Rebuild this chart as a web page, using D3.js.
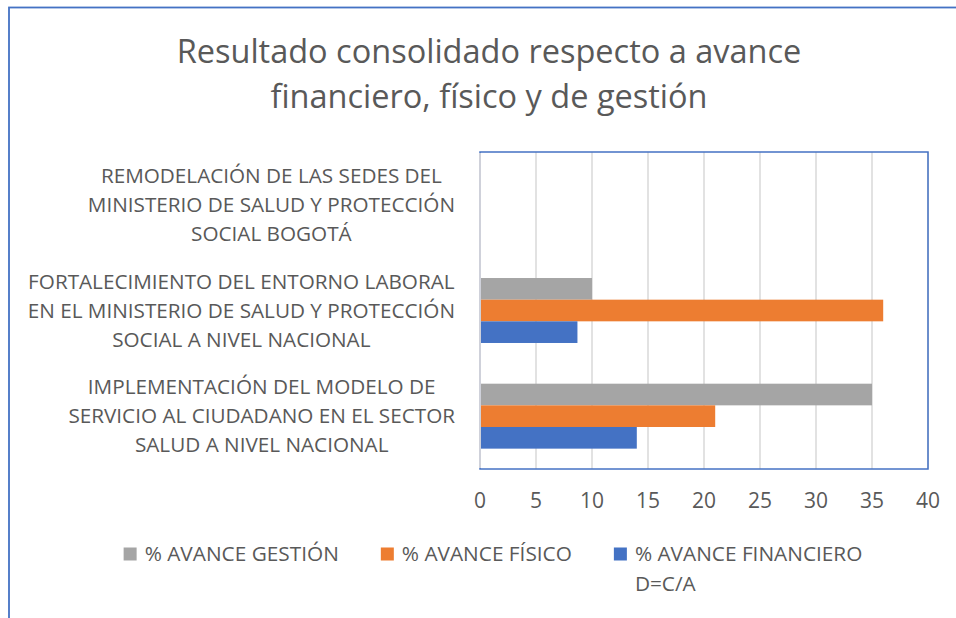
<!DOCTYPE html>
<html>
<head>
<meta charset="utf-8">
<title>Resultado consolidado</title>
<script src="https://cdn.jsdelivr.net/npm/d3@7"></script>
<style>
    body { margin: 0; background: #fff; }
    text { font-family: "Open Sans", sans-serif; fill: #595959; }
</style>
</head>
<body>
<div id="chart"></div>
<script>
    const width = 956, height = 618;

    // categories, top to bottom, with their label lines
    const categories = [
        "REMODELACIÓN DE LAS SEDES DEL MINISTERIO DE SALUD Y PROTECCIÓN SOCIAL BOGOTÁ",
        "FORTALECIMIENTO DEL ENTORNO LABORAL EN EL MINISTERIO DE SALUD Y PROTECCIÓN SOCIAL A NIVEL NACIONAL",
        "IMPLEMENTACIÓN DEL MODELO DE SERVICIO AL CIUDADANO EN EL SECTOR SALUD A NIVEL NACIONAL"
    ];
    const categoryLines = [
        ["REMODELACIÓN DE LAS SEDES DEL", "MINISTERIO DE SALUD Y PROTECCIÓN", "SOCIAL BOGOTÁ"],
        ["FORTALECIMIENTO DEL ENTORNO LABORAL", "EN EL MINISTERIO DE SALUD Y PROTECCIÓN", "SOCIAL A NIVEL NACIONAL"],
        ["IMPLEMENTACIÓN DEL MODELO DE", "SERVICIO AL CIUDADANO EN EL SECTOR", "SALUD A NIVEL NACIONAL"]
    ];

    const series = ["% AVANCE GESTIÓN", "% AVANCE FÍSICO", "% AVANCE FINANCIERO D=C/A"];
    const seriesLines = [["% AVANCE GESTIÓN"], ["% AVANCE FÍSICO"], ["% AVANCE FINANCIERO", "D=C/A"]];
    const seriesColors = ["#a5a5a5", "#ed7d31", "#4472c4"];

    const gestion = [null, 10, 35];
    const fisico = [null, 36, 21];
    const financiero = [null, 8.7, 14];

    const xTicks = [0, 5, 10, 15, 20, 25, 30, 35, 40];

    const values = [gestion, fisico, financiero];
    const rows = [];
    series.forEach((s, i) => {
        categories.forEach((c, j) => {
            if (values[i][j] != null) rows.push({ series: s, category: c, value: values[i][j], color: seriesColors[i] });
        });
    });

    const plot = { left: 480, right: 928, top: 152, bottom: 469 };

    const svg = d3.select("#chart").append("svg")
        .attr("width", width)
        .attr("height", height);

    // outer chart border (only top and left visible)
    svg.append("rect")
        .attr("x", 9).attr("y", 7.5)
        .attr("width", 1000).attr("height", 700)
        .attr("fill", "none")
        .attr("stroke", "#4472c4")
        .attr("stroke-width", 1.8);

    // title
    svg.append("text")
        .attr("x", 489)
        .attr("text-anchor", "middle")
        .attr("font-size", "32.5px")
        .selectAll("tspan")
        .data(["Resultado consolidado respecto a avance", "financiero, físico y de gestión"])
        .join("tspan")
        .attr("x", 489)
        .attr("y", (d, i) => 63 + i * 45)
        .text(d => d);

    const x = d3.scaleLinear().domain([0, 40]).range([plot.left, plot.right]);
    const y = d3.scaleBand().domain(categories).range([plot.top, plot.bottom]).padding(0);
    const ySub = d3.scaleBand().domain(series).range([0, y.bandwidth()]).paddingInner(0).paddingOuter(0.94);

    // gridlines
    svg.append("g")
        .selectAll("line")
        .data(xTicks.slice(1))
        .join("line")
        .attr("x1", d => x(d)).attr("x2", d => x(d))
        .attr("y1", plot.top).attr("y2", plot.bottom)
        .attr("stroke", "#d9d9d9")
        .attr("stroke-width", 1.5);

    // bars
    svg.append("g")
        .selectAll("rect")
        .data(rows)
        .join("rect")
        .attr("x", x(0))
        .attr("y", d => y(d.category) + ySub(d.series))
        .attr("width", d => x(d.value) - x(0))
        .attr("height", ySub.bandwidth())
        .attr("fill", d => d.color);

    // plot border
    svg.append("rect")
        .attr("x", plot.left).attr("y", plot.top)
        .attr("width", plot.right - plot.left)
        .attr("height", plot.bottom - plot.top)
        .attr("fill", "none")
        .attr("stroke", "#4472c4")
        .attr("stroke-width", 1.5);

    // vertical axis line
    svg.append("line")
        .attr("x1", plot.left).attr("x2", plot.left)
        .attr("y1", plot.top + 1).attr("y2", plot.bottom - 1)
        .attr("stroke", "#cfd1da")
        .attr("stroke-width", 2);

    // x tick labels
    svg.append("g")
        .selectAll("text")
        .data(xTicks)
        .join("text")
        .attr("x", d => x(d))
        .attr("y", 508)
        .attr("text-anchor", "middle")
        .attr("font-size", "21px")
        .text(d => d);

    // category labels, centred lines, right-aligned block
    categories.forEach((c, i) => {
        const g = svg.append("g").attr("font-size", "20.7px");
        const t = g.append("text").attr("text-anchor", "middle");
        const spans = t.selectAll("tspan")
            .data(categoryLines[i])
            .join("tspan")
            .attr("y", (d, k) => y(c) + y.bandwidth() / 2 + 7 + (k - 1) * 29)
            .text(d => d);
        let maxw = 0;
        spans.each(function () { maxw = Math.max(maxw, this.getComputedTextLength()); });
        spans.attr("x", 455 - maxw / 2);
    });

    // legend
    const legend = svg.append("g").attr("font-size", "20.8px");
    const items = [];
    seriesLines.forEach((lines, i) => {
        const item = legend.append("g");
        item.append("rect")
            .attr("width", 13).attr("height", 13)
            .attr("y", 547.5)
            .attr("fill", seriesColors[i]);
        const t = item.append("text");
        t.selectAll("tspan")
            .data(lines)
            .join("tspan")
            .attr("x", 21)
            .attr("y", (d, k) => 561 + k * 29.5)
            .text(d => d);
        const w = t.select("tspan").node().getComputedTextLength();
        items.push({ item, w: 21 + w });
    });
    const gap = 42;
    const total = d3.sum(items, d => d.w) + gap * (items.length - 1);
    let cx = 493 - total / 2;
    items.forEach(d => {
        d.item.attr("transform", "translate(" + cx + ",0)");
        cx += d.w + gap;
    });
</script>
</body>
</html>
